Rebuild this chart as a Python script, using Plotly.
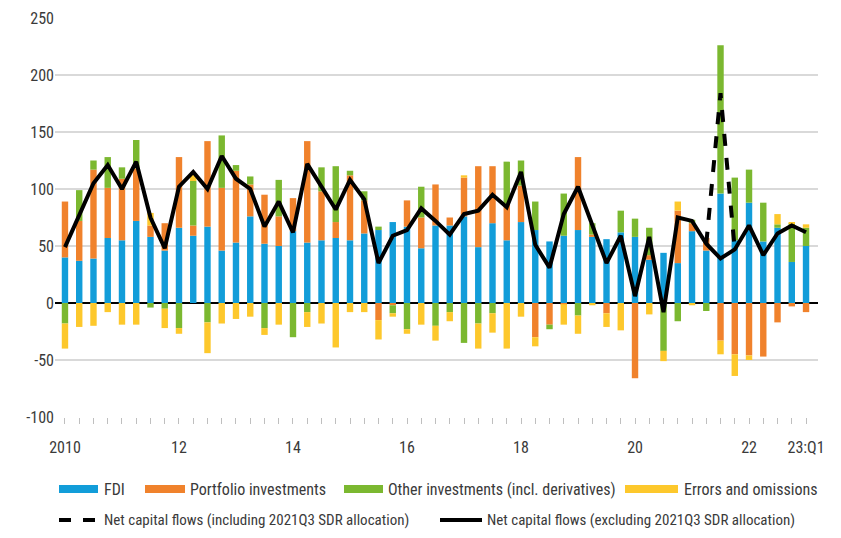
import plotly.graph_objects as go

# ---------------- data ----------------
quarters = [f"{y}Q{q}" for y in range(2010, 2024) for q in range(1, 5)][:53]

fdi = [40, 37, 39, 57, 55, 72, 58, 46,
       66, 59, 67, 46, 53, 76, 52, 50,
       63, 53, 55, 57, 55, 61, 64, 71,
       67, 48, 68, 68, 76, 49, 70, 55,
       71, 64, 54, 59, 64, 58, 56, 62,
       58, 38, 44, 35, 63, 46, 96, 55,
       88, 54, 66, 36, 50]
portfolio = [49, 35, 78, 44, 54, 46, 10, 24,
             62, 9, 75, 55, 63, 28, 43, 26,
             29, 89, 43, 14, 57, 29, -15, -2,
             23, 27, 36, 7, 34, 71, 50, 32,
             32, -30, -19, -1, 64, 2, -9, 0,
             -66, 4, 0, 46, 7, 11, -33, -45,
             -46, -47, -17, -3, -8]
other = [-18, 27, 8, 27, 10, 25, -4, -5,
         -22, 39, -17, 46, 5, 7, -22, 32,
         -30, -8, 21, 49, 4, 8, 3, -7,
         -23, 27, -20, -8, -35, -18, -9, 37,
         22, 25, -4, 37, -11, 10, 0, 19,
         16, 24, -42, -16, 3, -7, 130, 55,
         29, 34, 3, 34, 16]
errors = [-22, -21, -20, -8, -19, -19, 11, -17,
          -5, 7, -27, -18, -14, -12, -6, -19,
          0, -13, -18, -39, -8, -8, -17, -3,
          -4, -19, -13, -8, 2, -22, -17, -40,
          -12, -8, 0, -18, -16, -2, -12, -24,
          0, -10, -9, 8, -2, 0, -12, -19,
          -4, 0, 9, 1, 3]
net_excl = [49, 77, 105, 121, 100, 124, 75, 48,
            102, 115, 100, 129, 109, 100, 67, 89,
            62, 122, 102, 82, 108, 91, 35, 59,
            64, 83, 72, 60, 78, 81, 95, 84,
            115, 51, 31, 78, 102, 68, 35, 59,
            6, 58, -8, 75, 72, 52, 39, 47,
            68, 42, 61, 68, 62]
net_incl = [None] * 45 + [52, 184, 47] + [None] * 5

tick_labels = {"2010Q1": "2010", "2012Q1": "12", "2014Q1": "14", "2016Q1": "16",
               "2018Q1": "18", "2020Q1": "20", "2022Q1": "22", "2023Q1": "23:Q1"}
y_ticks = [-100, -50, 0, 50, 100, 150, 200, 250]

series_names = ["FDI", "Portfolio investments", "Other investments (incl. derivatives)",
                "Errors and omissions"]
line_names = ["Net capital flows (including 2021Q3 SDR allocation)",
              "Net capital flows (excluding 2021Q3 SDR allocation)"]

# ---------------- style ----------------
colors = ["#129dd9", "#f0822c", "#7bb830", "#fdc82c"]
FONT = "Roboto Condensed, Liberation Sans Narrow, Arial Narrow, Roboto, sans-serif"
TXT = "#3a3a3a"

OFF = 8  # page body margin
W, H = 841 - 2 * OFF, 538 - 2 * OFF
L, R, T = 55 - OFF, 15, 18 - OFF
B = H - (417 - OFF)
PW, PH = W - L - R, H - T - B

def px(x):  # page pixel -> paper x
    return (x - OFF - L) / PW

def py(y):  # page pixel -> paper y
    return (H - B - (y - OFF)) / PH

fig = go.Figure()
for name, vals, c in zip(series_names, [fdi, portfolio, other, errors], colors):
    fig.add_trace(go.Bar(x=quarters, y=vals, name=name, marker_color=c,
                         marker_line_width=0, width=0.45, showlegend=False))

fig.add_trace(go.Scatter(x=quarters, y=net_incl, mode="lines", name=line_names[0],
                         line=dict(color="black", width=4, dash="dash"),
                         connectgaps=False, showlegend=False))
fig.add_trace(go.Scatter(x=quarters, y=net_excl, mode="lines", name=line_names[1],
                         line=dict(color="black", width=4), showlegend=False))

fig.update_layout(
    width=W, height=H, barmode="relative",
    margin=dict(l=L, r=R, t=T, b=B, autoexpand=False),
    plot_bgcolor="white", paper_bgcolor="white",
    font=dict(family=FONT, size=15, color=TXT),
)
fig.update_xaxes(
    type="category", range=[-0.7, 52.84], automargin=False,
    tickmode="array", tickvals=quarters,
    ticktext=[tick_labels.get(q, "") for q in quarters],
    ticks="outside", ticklen=6, tickcolor="#bfbfbf", tickwidth=1,
    showline=False, showgrid=False, ticklabelstandoff=10,
    tickfont=dict(family=FONT, size=16, color=TXT),
)
fig.update_yaxes(
    range=[-100, 250], automargin=False,
    tickvals=y_ticks, ticktext=[str(v) for v in y_ticks],
    showgrid=True, gridcolor="#d9d9d9", gridwidth=1.5,
    zeroline=True, zerolinecolor="black", zerolinewidth=1.5,
    showline=False, ticks="", tickfont=dict(family=FONT, size=16, color=TXT),
)

# ---------------- manual legend ----------------
row1, row2 = 489, 520
items1 = [(59, 98, 102), (145, 185, 188), (344, 383, 386), (625, 678, 682)]
for (x0, x1, tx), name, c in zip(items1, series_names, colors):
    fig.add_shape(type="rect", xref="paper", yref="paper",
                  x0=px(x0), x1=px(x1), y0=py(row1 + 4), y1=py(row1 - 4),
                  fillcolor=c, line_width=0)
    fig.add_annotation(xref="paper", yref="paper", x=px(tx), y=py(row1),
                       text=name, showarrow=False, xanchor="left", yanchor="middle",
                       font=dict(family=FONT, size=16, color=TXT))
items2 = [(59, 98, 102, "dash"), (440, 482, 485, "solid")]
for (x0, x1, tx, d), name in zip(items2, line_names):
    fig.add_shape(type="line", xref="paper", yref="paper",
                  x0=px(x0), x1=px(x1), y0=py(row2), y1=py(row2),
                  line=dict(color="black", width=4, dash=d))
    fig.add_annotation(xref="paper", yref="paper", x=px(tx), y=py(row2),
                       text=name, showarrow=False, xanchor="left", yanchor="middle",
                       font=dict(family=FONT, size=15, color=TXT))

fig.write_html("out.html")
